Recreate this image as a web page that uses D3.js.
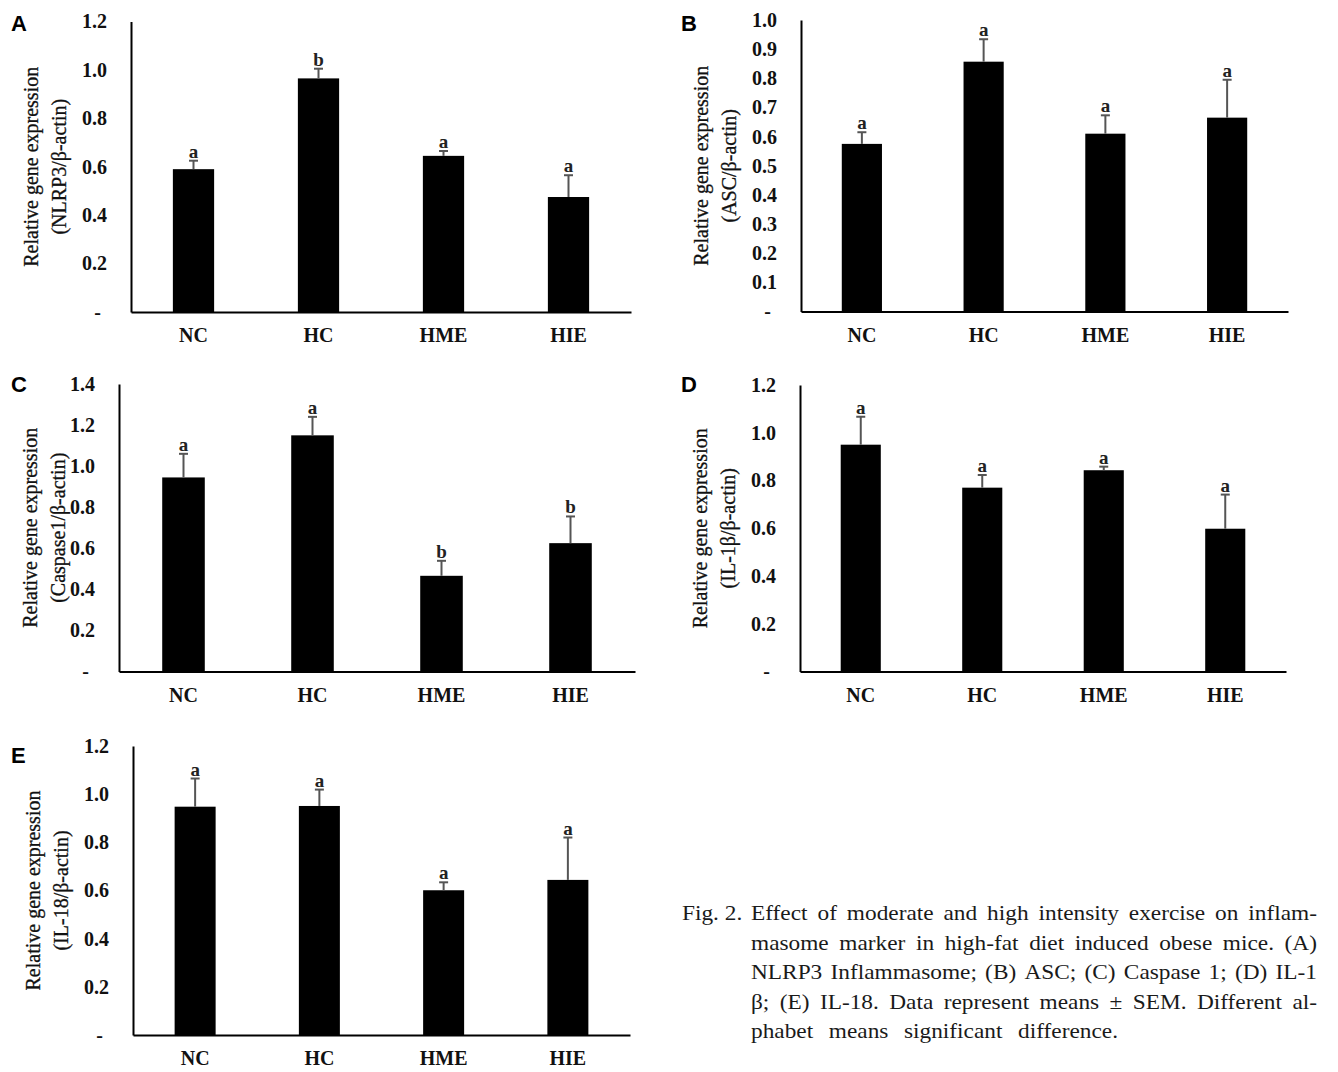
<!DOCTYPE html>
<html>
<head>
<meta charset="utf-8">
<script src="https://cdn.jsdelivr.net/npm/d3@7"></script>
<style>
  html, body { margin: 0; padding: 0; background: #fff; }
  svg { display: block; }
  text { font-family: "Liberation Serif", "Times New Roman", serif; }
</style>
</head>
<body>
<svg id="fig" width="1338" height="1072"></svg>
<script>
// ---------------- data ----------------
const categories = ["NC", "HC", "HME", "HIE"];

const nlrp3Mean = [0.59, 0.965, 0.645, 0.475];
const nlrp3Sem  = [0.035, 0.04, 0.02, 0.09];
const nlrp3Sig  = ["a", "b", "a", "a"];

const ascMean = [0.575, 0.857, 0.61, 0.665];
const ascSem  = [0.04, 0.077, 0.063, 0.13];
const ascSig  = ["a", "a", "a", "a"];

const casp1Mean = [0.945, 1.15, 0.466, 0.625];
const casp1Sem  = [0.115, 0.09, 0.073, 0.13];
const casp1Sig  = ["a", "a", "b", "b"];

const il1bMean = [0.95, 0.77, 0.843, 0.598];
const il1bSem  = [0.117, 0.053, 0.015, 0.143];
const il1bSig  = ["a", "a", "a", "a"];

const il18Mean = [0.948, 0.951, 0.601, 0.644];
const il18Sem  = [0.117, 0.068, 0.033, 0.176];
const il18Sig  = ["a", "a", "a", "a"];

const ticksA = [0, 0.2, 0.4, 0.6, 0.8, 1.0, 1.2];
const ticksB = [0, 0.1, 0.2, 0.3, 0.4, 0.5, 0.6, 0.7, 0.8, 0.9, 1.0];
const ticksC = [0, 0.2, 0.4, 0.6, 0.8, 1.0, 1.2, 1.4];
const ticksD = [0, 0.2, 0.4, 0.6, 0.8, 1.0, 1.2];
const ticksE = [0, 0.2, 0.4, 0.6, 0.8, 1.0, 1.2];

const titleLine1 = "Relative gene expression";
const titlesLine2 = ["(NLRP3/β-actin)", "(ASC/β-actin)", "(Caspase1/β-actin)", "(IL-1β/β-actin)", "(IL-18/β-actin)"];
const panelLetters = ["A", "B", "C", "D", "E"];

const captionLines = [
  "Fig. 2. Effect of moderate and high intensity exercise on inflam-",
  "masome marker in high-fat diet induced obese mice. (A)",
  "NLRP3 Inflammasome; (B) ASC; (C) Caspase 1; (D) IL-1",
  "β; (E) IL-18. Data represent means ± SEM. Different al-",
  "phabet means significant difference."
];

// ---------------- layout ----------------
const panels = [
  { letter: panelLetters[0], mean: nlrp3Mean, sem: nlrp3Sem, sig: nlrp3Sig, ticks: ticksA, max: 1.2, t2: titlesLine2[0],
    left: 131, right: 631, base: 312, top: 21.5, lx: 11, ly: 31, tOff: [98, 70] },
  { letter: panelLetters[1], mean: ascMean, sem: ascSem, sig: ascSig, ticks: ticksB, max: 1.0, t2: titlesLine2[1],
    left: 801, right: 1288, base: 311.5, top: 20, lx: 681, ly: 31, tOff: [98, 70] },
  { letter: panelLetters[2], mean: casp1Mean, sem: casp1Sem, sig: casp1Sig, ticks: ticksC, max: 1.4, t2: titlesLine2[2],
    left: 119, right: 635, base: 671.5, top: 384, lx: 11, ly: 392, tOff: [87, 59] },
  { letter: panelLetters[3], mean: il1bMean, sem: il1bSem, sig: il1bSig, ticks: ticksD, max: 1.2, t2: titlesLine2[3],
    left: 800, right: 1286, base: 671.5, top: 385, lx: 681, ly: 392, tOff: [98, 70] },
  { letter: panelLetters[4], mean: il18Mean, sem: il18Sem, sig: il18Sig, ticks: ticksE, max: 1.2, t2: titlesLine2[4],
    left: 133, right: 630, base: 1035, top: 746, lx: 11, ly: 763, tOff: [98, 70] }
];

const svg = d3.select("#fig");

panels.forEach(p => {
  const g = svg.append("g");
  const x = d3.scaleBand().domain(categories).range([p.left, p.right])
    .paddingInner(0.67).paddingOuter(0.335);
  const y = d3.scaleLinear().domain([0, p.max]).range([p.base, p.top]);

  // y axis
  const yAxis = d3.axisLeft(y).tickValues(p.ticks).tickSize(0).tickSizeOuter(0).tickPadding(24)
    .tickFormat(v => v === 0 ? "-" : d3.format(".1f")(v));
  const ya = g.append("g").attr("transform", `translate(${p.left},0)`).call(yAxis);
  ya.select(".domain").attr("stroke", "#000").attr("stroke-width", 2);
  ya.selectAll(".tick text")
    .attr("font-family", "Liberation Serif, serif")
    .attr("font-size", 20).attr("font-weight", "bold").attr("fill", "#111")
    .attr("x", d => d === 0 ? -30 : -24);

  // bars
  g.selectAll("rect.bar").data(categories).join("rect")
    .attr("class", "bar")
    .attr("x", d => x(d))
    .attr("width", x.bandwidth())
    .attr("y", (d, i) => y(p.mean[i]))
    .attr("height", (d, i) => y(0) - y(p.mean[i]))
    .attr("fill", "#000");

  // error bars (upper only)
  const cap = 4.5;
  g.selectAll("line.err").data(categories).join("line")
    .attr("class", "err")
    .attr("x1", d => x(d) + x.bandwidth() / 2).attr("x2", d => x(d) + x.bandwidth() / 2)
    .attr("y1", (d, i) => y(p.mean[i])).attr("y2", (d, i) => y(p.mean[i] + p.sem[i]))
    .attr("stroke", "#555").attr("stroke-width", 2);
  g.selectAll("line.cap").data(categories).join("line")
    .attr("class", "cap")
    .attr("x1", d => x(d) + x.bandwidth() / 2 - cap).attr("x2", d => x(d) + x.bandwidth() / 2 + cap)
    .attr("y1", (d, i) => y(p.mean[i] + p.sem[i])).attr("y2", (d, i) => y(p.mean[i] + p.sem[i]))
    .attr("stroke", "#555").attr("stroke-width", 2);

  // significance letters
  g.selectAll("text.sig").data(categories).join("text")
    .attr("class", "sig")
    .attr("x", d => x(d) + x.bandwidth() / 2)
    .attr("y", (d, i) => y(p.mean[i] + p.sem[i]) - 3)
    .attr("text-anchor", "middle")
    .attr("font-size", 19).attr("font-weight", "bold").attr("fill", "#222")
    .text((d, i) => p.sig[i]);

  // x axis
  const xAxis = d3.axisBottom(x).tickSize(0).tickSizeOuter(0).tickPadding(16);
  const xa = g.append("g").attr("transform", `translate(0,${p.base})`).call(xAxis);
  xa.select(".domain").attr("stroke", "#000").attr("stroke-width", 2);
  xa.selectAll(".tick text")
    .attr("font-family", "Liberation Serif, serif")
    .attr("font-size", 20).attr("font-weight", "bold").attr("fill", "#111");

  // y title (two lines)
  const cy = (p.base + p.top) / 2;
  [titleLine1, p.t2].forEach((t, k) => {
    g.append("text")
      .attr("transform", `translate(${p.left - p.tOff[k] + 5},${cy}) rotate(-90)`)
      .attr("text-anchor", "middle")
      .attr("font-size", 20).attr("fill", "#111")
      .attr("stroke", "#111").attr("stroke-width", 0.3)
      .text(t);
  });

  // panel letter
  g.append("text")
    .attr("x", p.lx).attr("y", p.ly)
    .style("font-family", "'Liberation Sans', Arial, sans-serif")
    .attr("font-size", 22).attr("font-weight", "bold").attr("fill", "#000")
    .text(p.letter);
});

// ---------------- caption (justified, glyphs slightly widened) ----------------
const capG = svg.append("g").attr("font-size", 22).attr("fill", "#1a1a1a");
const capLeftFirst = 682, capLeft = 751, capRight = 1317, lastRight = 1118;
const capBase = [920, 949.5, 979, 1008.5, 1037.5];
const sx = 1.06;
function measure(w) {
  const t = capG.append("text").attr("x", 0).attr("y", -100).text(w);
  const wd = t.node().getComputedTextLength();
  t.remove();
  return wd;
}
function put(word, xPos, yPos, wd) {
  capG.append("text").attr("x", xPos).attr("y", yPos)
    .attr("textLength", wd).attr("lengthAdjust", "spacingAndGlyphs").text(word);
}
captionLines.forEach((line, li) => {
  let words = line.split(" ");
  if (li === 0) {
    put("Fig. 2.", capLeftFirst, capBase[li], measure("Fig. 2.") * sx);
    words = words.slice(2);
  }
  const widths = words.map(w => measure(w) * sx);
  const total = d3.sum(widths);
  const right = li === captionLines.length - 1 ? lastRight : capRight;
  const gap = (right - capLeft - total) / (words.length - 1);
  let cx = capLeft;
  words.forEach((w, i) => {
    put(w, cx, capBase[li], widths[i]);
    cx += widths[i] + gap;
  });
});
</script>
</body>
</html>
